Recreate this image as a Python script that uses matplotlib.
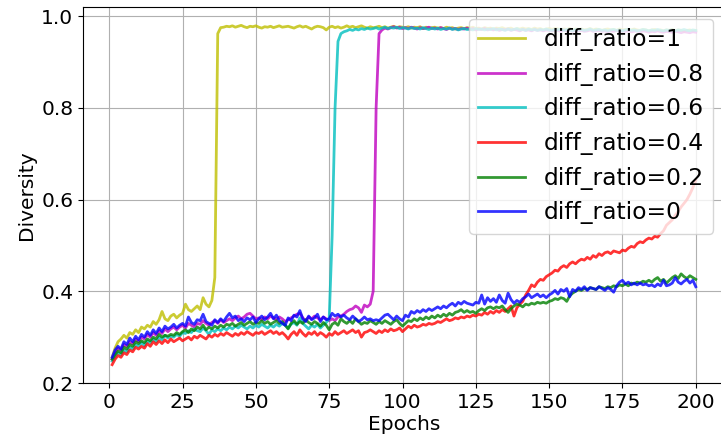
import matplotlib
matplotlib.use("Agg")
import matplotlib.pyplot as plt
import numpy as np

epochs = np.arange(1, 201)

# diff_ratio = 1  (jumps at epoch ~37)
div_1 = [
    0.256, 0.276, 0.290, 0.296, 0.304, 0.298, 0.310, 0.306, 0.316, 0.310,
    0.322, 0.318, 0.326, 0.322, 0.334, 0.328, 0.338, 0.356, 0.340, 0.336,
    0.346, 0.350, 0.342, 0.348, 0.352, 0.372, 0.360, 0.356, 0.362, 0.368,
    0.360, 0.386, 0.372, 0.366, 0.380, 0.430, 0.962, 0.975,
    0.976, 0.978, 0.977, 0.979, 0.976, 0.978, 0.980, 0.977, 0.975, 0.978, 0.977, 0.979,
    0.976, 0.974, 0.977, 0.976, 0.978, 0.975, 0.977, 0.979, 0.976, 0.977,
    0.978, 0.976, 0.974, 0.977, 0.979, 0.976, 0.978, 0.975, 0.972, 0.976,
    0.978, 0.977, 0.975, 0.970, 0.976, 0.978, 0.975, 0.977, 0.974, 0.976,
    0.979, 0.976, 0.978, 0.975, 0.977, 0.979, 0.976, 0.974, 0.977, 0.975,
    0.976, 0.978, 0.975, 0.977, 0.974, 0.976, 0.978, 0.975, 0.977, 0.976,
    0.975, 0.977, 0.974, 0.976, 0.975, 0.977, 0.973, 0.976, 0.974, 0.975,
    0.976, 0.974, 0.975, 0.973, 0.976, 0.974, 0.975, 0.972, 0.974, 0.975,
    0.973, 0.975, 0.974, 0.976, 0.973, 0.974, 0.972, 0.975, 0.973, 0.974,
    0.972, 0.974, 0.973, 0.975, 0.972, 0.973, 0.974, 0.971, 0.973, 0.972,
    0.974, 0.972, 0.973, 0.971, 0.974, 0.972, 0.973, 0.970, 0.972, 0.973,
    0.971, 0.973, 0.972, 0.970, 0.972, 0.971, 0.973, 0.970, 0.972, 0.971,
    0.972, 0.970, 0.971, 0.973, 0.970, 0.972, 0.971, 0.969, 0.971, 0.972,
    0.970, 0.971, 0.969, 0.972, 0.970, 0.971, 0.969, 0.970, 0.972, 0.970,
    0.969, 0.971, 0.970, 0.968, 0.970, 0.971, 0.969, 0.970, 0.968, 0.970,
    0.969, 0.971, 0.968, 0.970, 0.969, 0.967, 0.969, 0.970, 0.968, 0.969,
]

# diff_ratio = 0.8  (jumps at epoch ~91)
div_08 = [
    0.252, 0.266, 0.276, 0.272, 0.284, 0.280, 0.290, 0.286, 0.296, 0.290,
    0.300, 0.296, 0.306, 0.300, 0.310, 0.304, 0.314, 0.308, 0.318, 0.312,
    0.318, 0.322, 0.316, 0.322, 0.326, 0.320, 0.330, 0.326, 0.322, 0.330,
    0.328, 0.336, 0.330, 0.326, 0.332, 0.336, 0.330, 0.338, 0.332, 0.336,
    0.340, 0.336, 0.342, 0.346, 0.340, 0.344, 0.350, 0.352, 0.346, 0.340,
    0.342, 0.338, 0.344, 0.340, 0.346, 0.342, 0.338, 0.344, 0.340, 0.334,
    0.338, 0.342, 0.346, 0.350, 0.352, 0.342, 0.336, 0.344, 0.340, 0.346,
    0.342, 0.338, 0.344, 0.340, 0.336, 0.340, 0.336, 0.344, 0.346, 0.350,
    0.356, 0.360, 0.362, 0.368, 0.364, 0.354, 0.370, 0.366, 0.372, 0.400,
    0.800, 0.962, 0.970, 0.974, 0.972, 0.975, 0.977, 0.974, 0.976, 0.973,
    0.975, 0.973, 0.976, 0.974, 0.972, 0.975, 0.973, 0.974, 0.976, 0.973,
    0.974, 0.972, 0.975, 0.973, 0.971, 0.974, 0.972, 0.973, 0.971, 0.973,
    0.972, 0.974, 0.971, 0.973, 0.970, 0.972, 0.971, 0.973, 0.970, 0.972,
    0.970, 0.972, 0.969, 0.971, 0.970, 0.972, 0.969, 0.971, 0.970, 0.968,
    0.971, 0.969, 0.970, 0.968, 0.971, 0.969, 0.970, 0.968, 0.970, 0.969,
    0.968, 0.970, 0.969, 0.967, 0.970, 0.968, 0.969, 0.967, 0.969, 0.968,
    0.969, 0.967, 0.968, 0.970, 0.967, 0.968, 0.969, 0.967, 0.968, 0.966,
    0.968, 0.967, 0.969, 0.966, 0.968, 0.967, 0.968, 0.966, 0.967, 0.968,
    0.966, 0.968, 0.967, 0.965, 0.967, 0.966, 0.968, 0.966, 0.965, 0.967,
    0.966, 0.965, 0.967, 0.966, 0.964, 0.966, 0.965, 0.964, 0.966, 0.965,
]

# diff_ratio = 0.6  (jumps at epoch ~77)
div_06 = [
    0.248, 0.258, 0.266, 0.262, 0.272, 0.268, 0.278, 0.274, 0.284, 0.280,
    0.288, 0.282, 0.292, 0.288, 0.296, 0.290, 0.300, 0.294, 0.304, 0.298,
    0.302, 0.300, 0.306, 0.302, 0.310, 0.308, 0.314, 0.310, 0.318, 0.314,
    0.312, 0.320, 0.314, 0.306, 0.316, 0.312, 0.318, 0.314, 0.320, 0.316,
    0.322, 0.318, 0.324, 0.320, 0.326, 0.322, 0.318, 0.324, 0.320, 0.326,
    0.322, 0.328, 0.324, 0.320, 0.326, 0.322, 0.328, 0.324, 0.330, 0.326,
    0.320, 0.328, 0.332, 0.326, 0.342, 0.330, 0.324, 0.318, 0.326, 0.322,
    0.328, 0.320, 0.326, 0.332, 0.340, 0.520, 0.800, 0.945, 0.962, 0.966,
    0.968, 0.971, 0.969, 0.972, 0.970, 0.973, 0.971, 0.974, 0.972, 0.973,
    0.975, 0.972, 0.974, 0.976, 0.973, 0.975, 0.974, 0.976, 0.973, 0.975,
    0.974, 0.972, 0.975, 0.973, 0.974, 0.972, 0.975, 0.973, 0.971, 0.974,
    0.972, 0.974, 0.971, 0.973, 0.972, 0.974, 0.971, 0.973, 0.970, 0.972,
    0.973, 0.971, 0.972, 0.970, 0.973, 0.971, 0.972, 0.970, 0.972, 0.971,
    0.973, 0.970, 0.972, 0.971, 0.969, 0.972, 0.970, 0.971, 0.973, 0.970,
    0.971, 0.969, 0.972, 0.970, 0.971, 0.969, 0.971, 0.970, 0.972, 0.970,
    0.969, 0.971, 0.970, 0.972, 0.969, 0.971, 0.970, 0.968, 0.971, 0.970,
    0.971, 0.969, 0.970, 0.972, 0.969, 0.970, 0.971, 0.969, 0.970, 0.968,
    0.970, 0.971, 0.969, 0.970, 0.968, 0.970, 0.971, 0.969, 0.970, 0.968,
    0.969, 0.971, 0.970, 0.968, 0.970, 0.969, 0.971, 0.969, 0.968, 0.970,
    0.969, 0.970, 0.968, 0.970, 0.969, 0.971, 0.969, 0.968, 0.970, 0.969,
]

# diff_ratio = 0.4
div_04 = [
    0.240, 0.252, 0.260, 0.256, 0.266, 0.262, 0.272, 0.268, 0.278, 0.274,
    0.280, 0.276, 0.286, 0.280, 0.290, 0.284, 0.292, 0.286, 0.294, 0.288,
    0.296, 0.290, 0.294, 0.298, 0.292, 0.296, 0.300, 0.294, 0.302, 0.298,
    0.304, 0.300, 0.296, 0.304, 0.300, 0.306, 0.302, 0.308, 0.304, 0.310,
    0.306, 0.302, 0.308, 0.304, 0.310, 0.306, 0.312, 0.308, 0.304, 0.310,
    0.308, 0.312, 0.306, 0.310, 0.314, 0.308, 0.312, 0.306, 0.310, 0.304,
    0.296, 0.306, 0.312, 0.304, 0.316, 0.308, 0.302, 0.310, 0.306, 0.312,
    0.304, 0.310, 0.306, 0.300, 0.308, 0.304, 0.312, 0.306, 0.310, 0.314,
    0.308, 0.312, 0.316, 0.310, 0.314, 0.300, 0.310, 0.312, 0.316, 0.312,
    0.308, 0.314, 0.310, 0.316, 0.312, 0.318, 0.314, 0.316, 0.320, 0.312,
    0.318, 0.324, 0.320, 0.326, 0.322, 0.324, 0.328, 0.326, 0.330, 0.328,
    0.330, 0.334, 0.332, 0.336, 0.340, 0.336, 0.338, 0.342, 0.340, 0.344,
    0.342, 0.346, 0.344, 0.348, 0.346, 0.350, 0.348, 0.354, 0.350, 0.356,
    0.352, 0.358, 0.354, 0.360, 0.356, 0.362, 0.368, 0.346, 0.364, 0.372,
    0.378, 0.392, 0.402, 0.414, 0.410, 0.420, 0.426, 0.424, 0.432, 0.436,
    0.440, 0.446, 0.444, 0.452, 0.456, 0.452, 0.460, 0.464, 0.460, 0.466,
    0.470, 0.468, 0.474, 0.470, 0.478, 0.474, 0.482, 0.478, 0.484, 0.486,
    0.482, 0.488, 0.486, 0.484, 0.490, 0.488, 0.494, 0.498, 0.496, 0.504,
    0.508, 0.506, 0.512, 0.516, 0.514, 0.520, 0.518, 0.526, 0.532, 0.544,
    0.550, 0.556, 0.566, 0.574, 0.584, 0.592, 0.600, 0.612, 0.626, 0.642,
]

# diff_ratio = 0.2
div_02 = [
    0.252, 0.262, 0.270, 0.266, 0.278, 0.274, 0.284, 0.280, 0.290, 0.286,
    0.292, 0.288, 0.296, 0.292, 0.300, 0.296, 0.306, 0.300, 0.304, 0.302,
    0.306, 0.304, 0.310, 0.306, 0.312, 0.316, 0.310, 0.318, 0.314, 0.322,
    0.318, 0.326, 0.316, 0.322, 0.318, 0.324, 0.320, 0.326, 0.322, 0.328,
    0.326, 0.330, 0.324, 0.328, 0.332, 0.326, 0.330, 0.334, 0.328, 0.332,
    0.330, 0.336, 0.330, 0.334, 0.328, 0.332, 0.336, 0.330, 0.334, 0.326,
    0.318, 0.330, 0.336, 0.328, 0.334, 0.330, 0.338, 0.332, 0.328, 0.334,
    0.330, 0.324, 0.332, 0.326, 0.316, 0.328, 0.332, 0.326, 0.340, 0.334,
    0.330, 0.336, 0.330, 0.340, 0.334, 0.328, 0.332, 0.330, 0.336, 0.332,
    0.328, 0.334, 0.330, 0.336, 0.332, 0.328, 0.334, 0.338, 0.330, 0.324,
    0.330, 0.336, 0.334, 0.340, 0.336, 0.342, 0.338, 0.344, 0.340, 0.346,
    0.342, 0.348, 0.344, 0.350, 0.346, 0.352, 0.348, 0.354, 0.356, 0.360,
    0.354, 0.358, 0.354, 0.356, 0.352, 0.358, 0.362, 0.358, 0.364, 0.366,
    0.362, 0.366, 0.364, 0.368, 0.360, 0.354, 0.362, 0.368, 0.372, 0.370,
    0.366, 0.372, 0.370, 0.374, 0.372, 0.376, 0.374, 0.376, 0.374, 0.378,
    0.380, 0.384, 0.382, 0.386, 0.384, 0.378, 0.390, 0.396, 0.400, 0.404,
    0.402, 0.406, 0.404, 0.408, 0.406, 0.404, 0.410, 0.408, 0.406, 0.410,
    0.408, 0.412, 0.410, 0.414, 0.412, 0.416, 0.412, 0.418, 0.416, 0.420,
    0.418, 0.422, 0.420, 0.424, 0.420, 0.426, 0.430, 0.422, 0.426, 0.418,
    0.424, 0.430, 0.434, 0.428, 0.438, 0.432, 0.428, 0.434, 0.430, 0.426,
]

# diff_ratio = 0
div_0 = [
    0.256, 0.272, 0.280, 0.274, 0.290, 0.284, 0.298, 0.290, 0.302, 0.294,
    0.306, 0.300, 0.312, 0.304, 0.316, 0.308, 0.320, 0.312, 0.324, 0.318,
    0.322, 0.328, 0.320, 0.326, 0.330, 0.324, 0.344, 0.332, 0.328, 0.338,
    0.336, 0.350, 0.334, 0.330, 0.326, 0.338, 0.332, 0.340, 0.334, 0.344,
    0.352, 0.342, 0.346, 0.336, 0.340, 0.334, 0.342, 0.338, 0.344, 0.332,
    0.340, 0.346, 0.338, 0.344, 0.352, 0.340, 0.348, 0.336, 0.330, 0.326,
    0.342, 0.336, 0.348, 0.344, 0.358, 0.340, 0.334, 0.346, 0.338, 0.342,
    0.350, 0.334, 0.344, 0.338, 0.340, 0.352, 0.346, 0.350, 0.344, 0.348,
    0.342, 0.338, 0.346, 0.340, 0.334, 0.338, 0.344, 0.338, 0.340, 0.336,
    0.338, 0.336, 0.342, 0.348, 0.350, 0.344, 0.338, 0.346, 0.340, 0.336,
    0.348, 0.344, 0.356, 0.352, 0.358, 0.354, 0.360, 0.356, 0.362, 0.358,
    0.362, 0.366, 0.362, 0.368, 0.364, 0.370, 0.374, 0.368, 0.376, 0.372,
    0.378, 0.374, 0.372, 0.370, 0.376, 0.374, 0.392, 0.372, 0.386, 0.378,
    0.384, 0.376, 0.392, 0.380, 0.374, 0.396, 0.382, 0.374, 0.380, 0.376,
    0.384, 0.388, 0.394, 0.386, 0.390, 0.394, 0.388, 0.392, 0.386, 0.392,
    0.396, 0.402, 0.394, 0.404, 0.400, 0.406, 0.388, 0.404, 0.400, 0.408,
    0.404, 0.410, 0.402, 0.408, 0.406, 0.404, 0.410, 0.406, 0.402, 0.408,
    0.404, 0.398, 0.412, 0.420, 0.424, 0.416, 0.420, 0.414, 0.418, 0.414,
    0.418, 0.414, 0.416, 0.412, 0.414, 0.410, 0.416, 0.412, 0.424, 0.412,
    0.414, 0.418, 0.430, 0.420, 0.416, 0.422, 0.426, 0.418, 0.424, 0.410,
]

series = [div_1, div_08, div_06, div_04, div_02, div_0]
labels = ["diff_ratio=1", "diff_ratio=0.8", "diff_ratio=0.6",
          "diff_ratio=0.4", "diff_ratio=0.2", "diff_ratio=0"]
colors = ["y", "m", "c", "r", "g", "b"]

fig = plt.figure(figsize=(7.21, 4.41), dpi=100)
ax = fig.add_axes([0.1151, 0.1315, 0.8904, 0.8526])

for ys, lab, col in zip(series, labels, colors):
    ax.plot(epochs, ys, color=col, label=lab, linewidth=2.0, alpha=0.8)

ax.set_xlim(-8.95, 209.95)
ax.set_ylim(0.2, 1.02)
ax.set_xticks([0, 25, 50, 75, 100, 125, 150, 175, 200])
ax.set_yticks([0.2, 0.4, 0.6, 0.8, 1.0])
ax.tick_params(labelsize=14.5)
ax.set_xlabel("Epochs", fontsize=14.5, labelpad=2)
ax.set_ylabel("Diversity", fontsize=14.5)
ax.grid(True)
ax.legend(loc="upper right", fontsize=16.8)

fig.savefig("out.png", dpi=100)
